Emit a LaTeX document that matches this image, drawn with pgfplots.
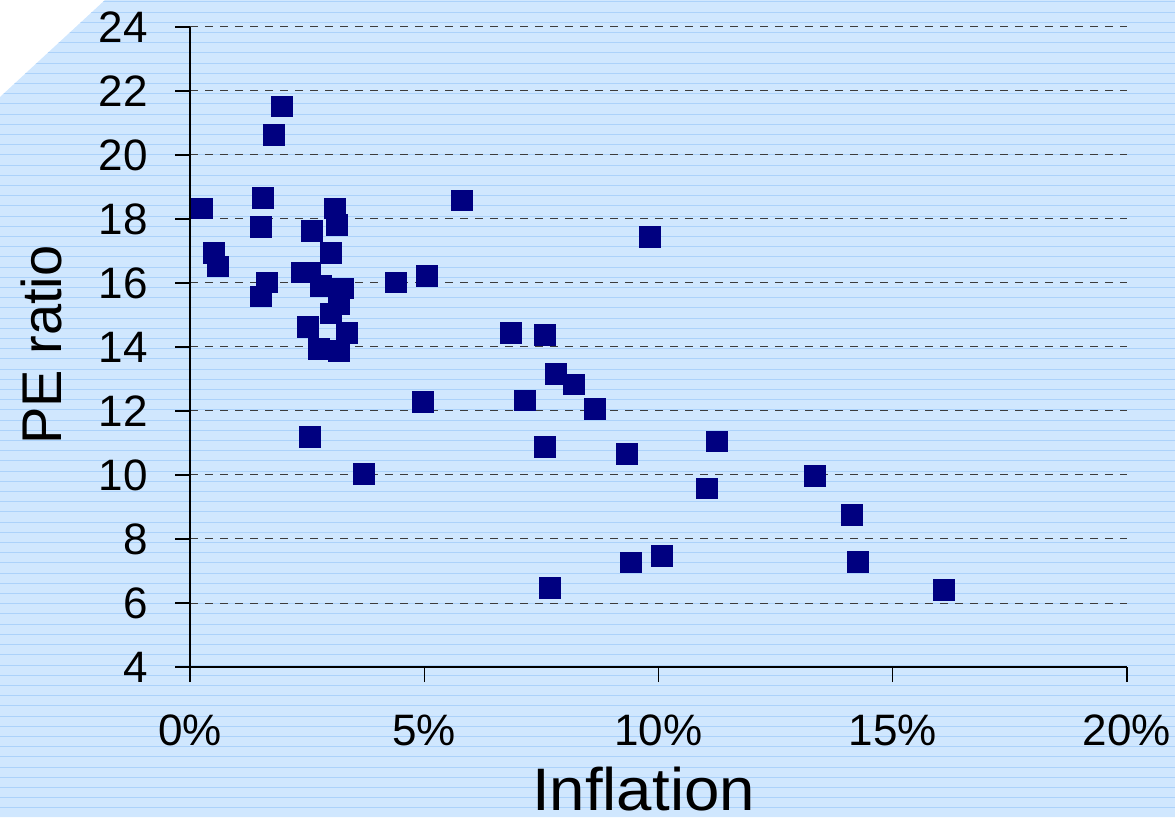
\documentclass[border=0pt]{standalone}
\usepackage{fontspec}
\setmainfont{Liberation Sans}
\usepackage{pgfplots}
\pgfplotsset{compat=1.18}
\definecolor{bgblue}{HTML}{D0E7FE}
\definecolor{stripeblue}{HTML}{ACD2FA}
\definecolor{navy}{HTML}{000080}
\definecolor{griddark}{HTML}{3C3C3C}
\begin{document}
\begin{tikzpicture}[x=1pt,y=1pt]
  % background with cut corner and stripes
  \fill[bgblue] (0,0) -- (1175,0) -- (1175,817) -- (105,817) -- (0,720) -- cycle;
  \begin{scope}
    \clip (0,0) -- (1175,0) -- (1175,817) -- (105,817) -- (0,720) -- cycle;
    \foreach \k in {0,...,80} {
      \draw[stripeblue, line width=1pt] (0,{815-10.2*\k}) -- (1175,{815-10.2*\k});
    }
  \end{scope}
  \begin{axis}[
    at={(190pt,150pt)}, anchor=south west,
    scale only axis, width=937pt, height=640pt,
    xmin=0, xmax=20, ymin=4, ymax=24,
    axis x line*=bottom, axis y line*=left,
    axis line style={black, line width=1.3pt},
    xtick={0,5,10,15,20},
    xticklabels={0\%,5\%,10\%,15\%,20\%},
    ytick={4,6,...,24},
    tick align=outside,
    major tick length=15pt,
    tick style={black, line width=1.3pt},
    ymajorgrids,
    major grid style={griddark, line width=1pt, dash pattern=on 8pt off 7pt},
    /pgf/number format/assume math mode=true,
    ticklabel style={font=\fontsize{44}{44}\selectfont, inner sep=0pt},
    yticklabel shift=27pt,
    xticklabel shift=33pt,
    clip=false,
  ]
    \addplot[only marks, mark=square*, mark size=10.35pt,
      mark options={fill=navy, draw=navy, line width=0pt}] coordinates {
      (0.263,18.33) (0.519,16.93) (0.604,16.52) (1.970,21.52) (1.799,20.62)
      (1.565,18.65) (1.522,17.74) (1.650,16.02) (1.522,15.58) (2.610,17.62)
      (2.397,16.33) (2.568,16.33) (2.803,15.90) (2.525,14.62) (2.760,13.93)
      (2.561,11.19) (3.101,18.33) (3.144,17.81) (3.016,16.93) (3.272,15.83)
      (3.187,15.33) (3.016,15.05) (3.358,14.43) (3.187,13.87) (3.714,10.03)
      (4.403,16.02) (5.065,16.21) (4.973,12.28) (5.812,18.58) (6.858,14.43)
      (7.584,14.37) (7.157,12.33) (7.819,13.15) (8.203,12.83) (8.651,12.06)
      (7.584,10.87) (7.690,6.46) (9.334,10.65) (9.419,7.27) (9.819,17.44)
      (10.081,7.46) (11.255,11.05) (11.042,9.58) (13.34,9.97) (14.13,8.75)
      (14.26,7.28) (16.10,6.40)
    };
  \end{axis}
  \node[anchor=base, inner sep=0pt, font=\fontsize{60}{60}\selectfont, xscale=1.06] at (643.5,7) {Inflation};
  \node[anchor=base, rotate=90, inner sep=0pt, font=\fontsize{56}{56}\selectfont] at (61,472) {PE ratio};
  \pgfresetboundingbox
  \path (0,0) rectangle (1175,817);
\end{tikzpicture}
\end{document}
